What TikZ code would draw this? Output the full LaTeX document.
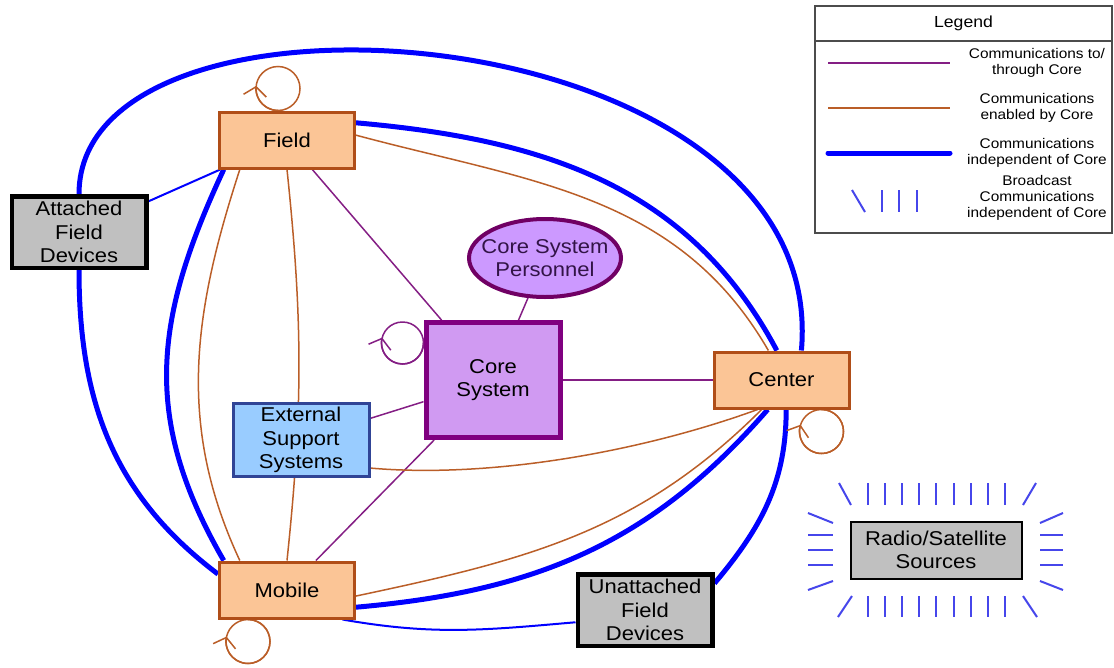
\documentclass[tikz,border=0pt]{standalone}
\usepackage{fontspec}
\setmainfont{Liberation Sans}[FakeStretch=1.1]
\usepackage{tikz}
\usetikzlibrary{positioning,arrows.meta,shapes.geometric,backgrounds}

\definecolor{fieldfill}{RGB}{251,197,150}
\definecolor{fielddraw}{RGB}{176,78,24}
\definecolor{enabcol}{RGB}{186,94,40}
\definecolor{thrucol}{RGB}{132,30,132}
\definecolor{corefill}{RGB}{208,154,242}
\definecolor{coredraw}{RGB}{128,0,128}
\definecolor{persfill}{RGB}{204,153,255}
\definecolor{persdraw}{RGB}{112,0,100}
\definecolor{extfill}{RGB}{153,204,255}
\definecolor{extdraw}{RGB}{48,68,150}
\definecolor{devfill}{RGB}{192,192,192}
\definecolor{indepcol}{RGB}{0,0,255}
\definecolor{bcastcol}{RGB}{70,70,235}

\begin{document}
\begin{tikzpicture}[
    x=1pt, y=1pt,
    bigfont/.style={font=\fontsize{20}{23.5}\selectfont},
    smallfont/.style={font=\fontsize{14}{16}\selectfont},
    fieldbox/.style={rectangle, draw=fielddraw, fill=fieldfill, line width=3pt, minimum width=135pt, minimum height=56pt, inner sep=1pt, bigfont},
    corebox/.style={rectangle, draw=coredraw, fill=corefill, line width=5pt, minimum width=134pt, minimum height=115pt, align=center, bigfont},
    persnode/.style={ellipse, draw=persdraw, fill=persfill, line width=4pt, minimum width=152pt, minimum height=78pt, inner xsep=-12pt, inner ysep=0pt, align=center, text={rgb,255:red,50;green,20;blue,70}, bigfont},
    extbox/.style={rectangle, draw=extdraw, fill=extfill, line width=3pt, minimum width=136pt, minimum height=73pt, inner sep=1pt, align=center, bigfont},
    devbox/.style={rectangle, draw=black, fill=devfill, line width=4.5pt, minimum width=134.5pt, minimum height=71.5pt, inner sep=1pt, align=center, bigfont},
    radiobox/.style={rectangle, draw=black, fill=devfill, line width=2pt, minimum width=171pt, minimum height=57pt, inner sep=1pt, align=center, bigfont},
    legtitle/.style={rectangle, draw=black!70, line width=1.2pt, outer sep=0pt, minimum width=297pt, minimum height=35pt, font=\fontsize{16}{19}\selectfont},
    legbody/.style={rectangle, draw=black!70, line width=1.2pt, outer sep=0pt, minimum width=297pt, minimum height=192pt},
    legtext/.style={align=center, inner sep=0pt, smallfont},
    thru/.style={draw=thrucol, line width=1.5pt},
    enab/.style={draw=enabcol, line width=1.5pt},
    indep/.style={draw=indepcol, line width=5pt},
    indepthin/.style={draw=indepcol, line width=2pt},
    bcast/.style={draw=bcastcol, line width=2pt},
    looptip/.style={-{Straight Barb[length=9pt, width=23pt]}}
    ]
        \useasboundingbox (0,0) rectangle (1114,-667);

        %Nodes
        \node[fieldbox]
            (fld)   at (287,-140)           {Field};
        \node[fieldbox]
            (mob)   [below=391pt of fld]    {Mobile};
        \node[corebox]
            (core)  at (493,-380)           {Core\\System};
        \node[fieldbox]
            (ctr)   [right=150pt of core]   {Center};
        \node[persnode]
            (pers)  at (545,-258)           {Core System\\Personnel};
        \node[extbox]
            (ext)   at (301,-440)           {External\\Support\\Systems};
        \node[devbox]
            (att)   at (79,-232)            {Attached\\Field\\Devices};
        \node[devbox]
            (unatt) at (645,-610)           {Unattached\\Field\\Devices};
        \node[radiobox]
            (radio) at (936,-550)           {Radio/Satellite\\Sources};

        %Legend
        \node[legtitle]
            (legtop) at (963.5,-23.5)       {Legend};
        \node[legbody]
            (legbox) [below=0pt of legtop]  {};
        \node[legtext]
            (lthru)  at (1037,-63)          {Communications to/\\through Core};
        \node[legtext]
            (lenab)  at (1037,-108)         {Communications\\enabled by Core};
        \node[legtext]
            (lindep) at (1037,-153)         {Communications\\independent of Core};
        \node[legtext]
            (lbcast) at (1037,-198)         {Broadcast\\Communications\\independent of Core};
        \draw[thru] ([xshift=-209pt]lthru.center) -- ++(122,0);
        \draw[enab] ([xshift=-209pt]lenab.center) -- ++(122,0);
        \draw[indep, line cap=round] ([xshift=-209pt]lindep.center) -- ++(122,0);
        \begin{scope}[shift={(lbcast.center)}]
            \draw[bcast] (-185,8) -- (-172,-14);
            \foreach \bx in {-155,-138,-120}
                \draw[bcast] (\bx,8) -- (\bx,-14);
        \end{scope}

        %Broadcast marks
        \begin{scope}[shift={(radio.center)}]
            \foreach \i in {0,...,8}{
                \draw[bcast] (-68+17.1*\i,67) -- ++(0,-22);
                \draw[bcast] (-68+17.1*\i,-46) -- ++(0,-21);
            }
            \foreach \yy in {15,0,-15}{
                \draw[bcast] (-128,\yy) -- (-103,\yy);
                \draw[bcast] (104,\yy) -- (127,\yy);
            }
            \draw[bcast] (-97,67) -- (-85,45);
            \draw[bcast] (100,67) -- (87,45);
            \draw[bcast] (-84,-46) -- (-98,-67);
            \draw[bcast] (87,-46) -- (101,-67);
            \draw[bcast] (-128,37) -- (-103,27);
            \draw[bcast] (-128,-40) -- (-103,-31);
            \draw[bcast] (104,27) -- (127,37);
            \draw[bcast] (104,-31) -- (127,-40);
        \end{scope}

        %Lines
        \begin{scope}[on background layer]
            % to/through core
            \draw[thru] (fld) -- (core);
            \draw[thru] (pers) -- (core);
            \draw[thru] (core) -- (ctr);
            \draw[thru] (ext) -- (core);
            \draw[thru] (core) -- (mob);
            % enabled by core
            \draw[enab] (fld.4) to[out=-15, in=120, distance=181pt] (ctr.114);
            \draw[enab] (fld.212) to[out=252, in=115, distance=150pt] (mob.148);
            \draw[enab] (fld.south) to[bend left=6] (mob.north);
            \draw[enab] (ext.-22) to[out=-5, in=200, distance=122pt] (ctr.231);
            \draw[enab] (mob.-5) to[out=12, in=225, distance=174pt] (ctr.236);
            % independent of core
            \draw[indep] (att.north) to[out=90, in=85, out distance=235pt, in distance=340pt] (ctr.56);
            \draw[indep] (att.south) to[out=-90, in=143, distance=131pt] (mob.167);
            \draw[indep] (fld.-155) to[out=245, in=120, distance=165pt] (mob.155);
            \draw[indep] (fld.14) to[out=-5, in=118, distance=187pt] (ctr.99);
            \draw[indep] (mob.-14) to[out=5, in=229, distance=179pt] (ctr.245);
            \draw[indep] (unatt.21) to[out=50, in=270, distance=73pt] (ctr.-81);
            \draw[indepthin] (att) -- (fld);
            \draw[indepthin] (mob.-28) to[out=-10, in=185, distance=92pt] (unatt.190);
            % loops
            \draw[enab] ([xshift=-9pt]fld.north) arc[start angle=-90, end angle=-450, radius=22pt];
            \draw[enab, looptip] ([xshift=-9pt]fld.north) arc[start angle=-90, end angle=-187, radius=22pt];
            \draw[thru] ([yshift=37pt]core.west) arc[start angle=0, end angle=-360, radius=21pt];
            \draw[thru, looptip] ([yshift=37pt]core.west) arc[start angle=0, end angle=-195, radius=21pt];
            \draw[enab] ([xshift=40pt]ctr.south) arc[start angle=90, end angle=-270, radius=22pt];
            \draw[enab, looptip] ([xshift=40pt]ctr.south) arc[start angle=90, end angle=-198, radius=22pt];
            \draw[enab] ([xshift=-39pt]mob.south) arc[start angle=90, end angle=-270, radius=22pt];
            \draw[enab, looptip] ([xshift=-39pt]mob.south) arc[start angle=90, end angle=-193, radius=22pt];
        \end{scope}
\end{tikzpicture}
\end{document}
